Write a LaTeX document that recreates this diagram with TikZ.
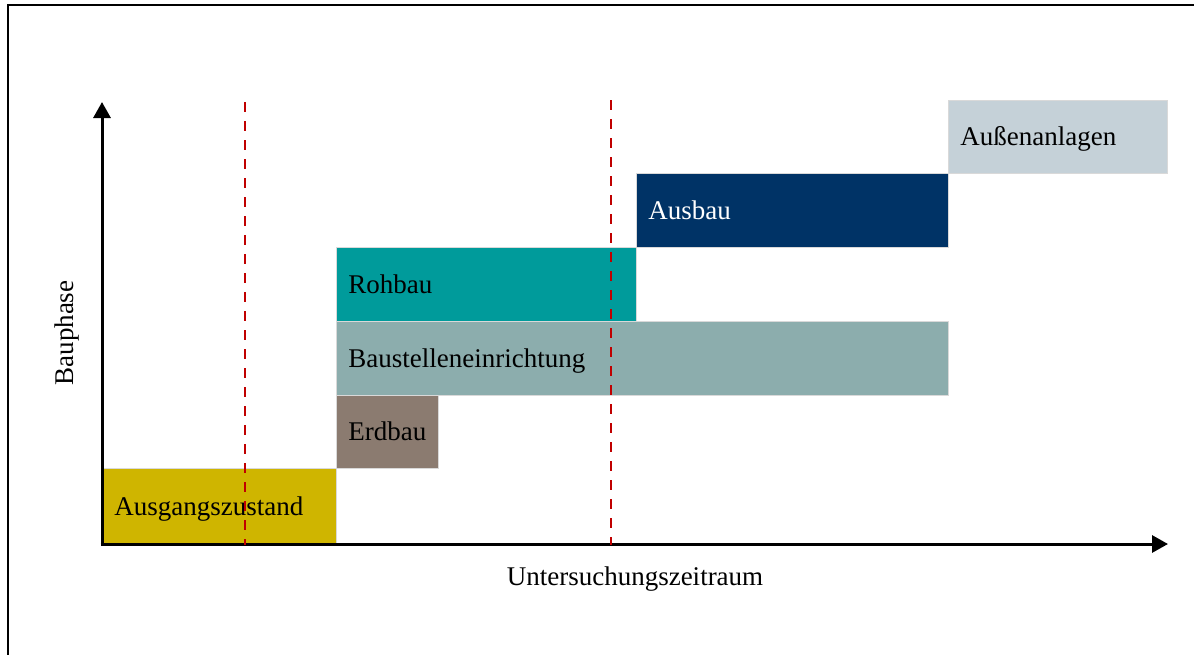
\documentclass[tikz,border=0pt]{standalone}
\usepackage{fontspec}
\setmainfont{Liberation Serif}
\usetikzlibrary{arrows.meta}
\definecolor{cAus}{HTML}{CFB500}
\definecolor{cErd}{HTML}{8B7B70}
\definecolor{cBst}{HTML}{8CADAD}
\definecolor{cRoh}{HTML}{009B9B}
\definecolor{cAbu}{HTML}{003366}
\definecolor{cAan}{HTML}{C5D1D8}
\definecolor{cRed}{HTML}{C00000}
\tikzset{
  phase/.style={draw=white!85!black, line width=0.8pt, anchor=north west, inner xsep=12pt, inner ysep=0pt,
    align=left, text height=18pt, text depth=0pt, font=\fontsize{27}{30}\selectfont},
  axis/.style={line width=3pt, -{Triangle[length=16pt,width=17pt]}},
  mark line/.style={draw=cRed, line width=2.5pt, dash pattern=on 10pt off 9pt},
  lbl/.style={font=\fontsize{27}{30}\selectfont}
}
\begin{document}
\begin{tikzpicture}[x=1pt,y=-1pt]
\useasboundingbox (0,0) rectangle (1194,654);
% frame
\draw[line width=2.6pt] (8,656) -- (8,5) -- (1196,5);
% boxes
\node[phase, fill=cAus, text width=210pt, minimum height=76pt] (ausgang) at (102,468) {Ausgangszustand};
\node[phase, fill=cErd, text width=78pt, minimum height=73pt] (erdbau) at (336,395) {Erdbau};
\node[phase, fill=cBst, text width=588pt, minimum height=74pt] (baust) at (336,321) {Baustelleneinrichtung};
\node[phase, fill=cRoh, text width=276pt, minimum height=74pt] (rohbau) at (336,247) {Rohbau};
\node[phase, fill=cAbu, text=white, text width=288pt, minimum height=74pt] (ausbau) at (636,173) {Ausbau};
\node[phase, fill=cAan, text width=195pt, minimum height=73pt] (aussen) at (948,100) {Außenanlagen};
% axes
\coordinate (origin) at (102,545.5);
\coordinate (ytip) at (102,102);
\coordinate (xstart) at (100.5,544);
\coordinate (xtip) at (1168,544);
\draw[axis] (origin) -- (ytip);
\draw[axis] (xstart) -- (xtip);
% dashed marks
\coordinate (d1t) at (245,102);
\coordinate (d1b) at (245,545);
\coordinate (d2t) at (611,100);
\coordinate (d2b) at (611,545);
\draw[mark line] (d1t) -- (d1b);
\draw[mark line] (d2t) -- (d2b);
% axis labels
\node[lbl, rotate=90] (ylab) at (67,333) {Bauphase};
\node[lbl] (xlab) at (635,579) {Untersuchungszeitraum};
\end{tikzpicture}
\end{document}
